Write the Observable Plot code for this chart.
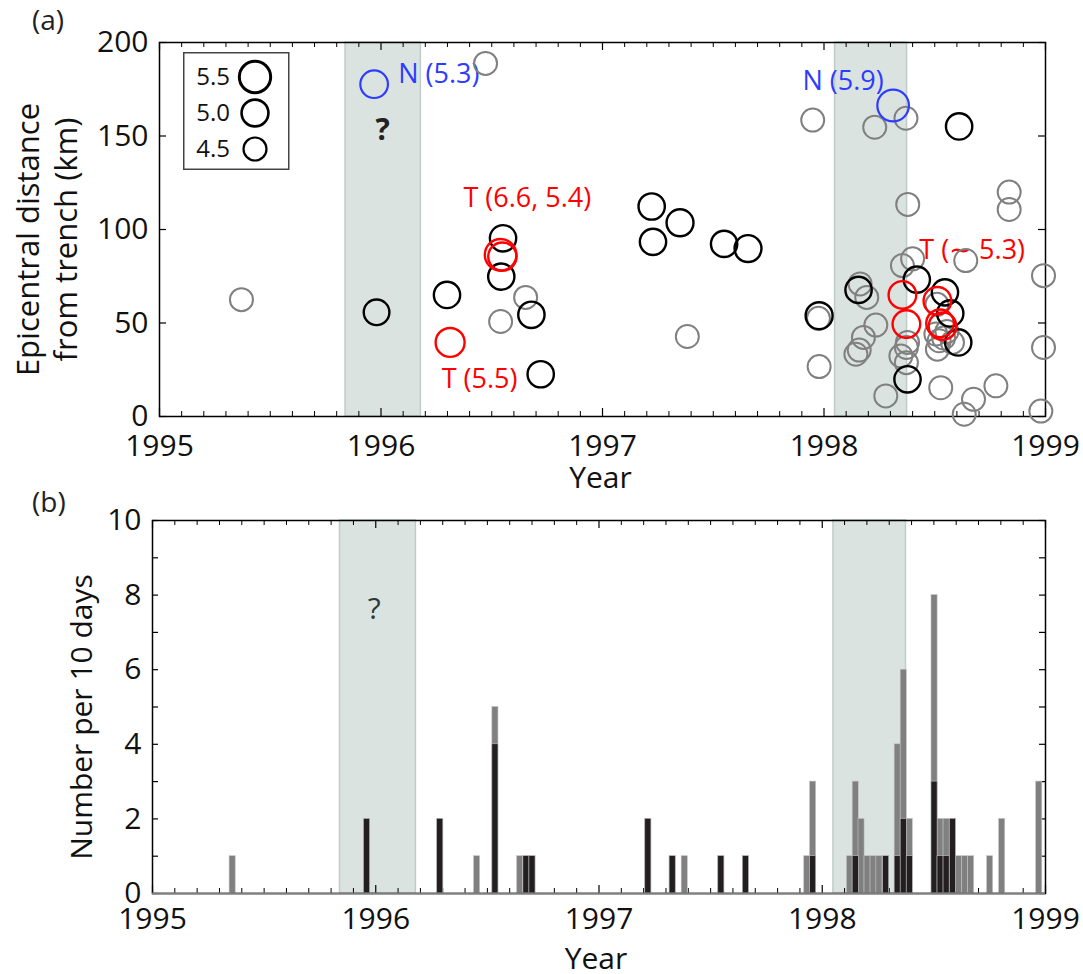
<!DOCTYPE html>
<html><head><meta charset="utf-8">
<script src="https://cdn.jsdelivr.net/npm/d3@7"></script>
<script src="https://cdn.jsdelivr.net/npm/@observablehq/plot@0.6"></script>
<style>
body{margin:0;background:#fff;font-family:"Open Sans",sans-serif;}
#wrap{position:relative;width:1083px;height:974px;overflow:hidden;}
#wrap > svg, #wrap > div{position:absolute;}
.plabel{position:absolute;font-size:28px;color:#222;font-family:"Open Sans",sans-serif;line-height:1;}
</style></head><body><div id="wrap"></div>
<script>
// ---------- Panel (a) data ----------
// Events M < 5 (gray)
const smallYear = [1995.370, 1996.472, 1996.653, 1996.540, 1997.383, 1997.949, 1998.229, 1998.370, 1998.836, 1998.836, 1998.378, 1997.975, 1997.978, 1998.163, 1998.193, 1998.234, 1998.178, 1998.159, 1998.144, 1998.279, 1998.354, 1998.400, 1998.377, 1998.372, 1998.347, 1998.372, 1998.640, 1998.505, 1998.520, 1998.512, 1998.580, 1998.510, 1998.527, 1998.675, 1998.633, 1998.776, 1998.991, 1998.991, 1998.979, 1998.555, 1998.540];
const smallDist = [62.5, 188.8, 63.7, 50.8, 42.8, 158.5, 154.7, 159.5, 120.0, 110.7, 113.4, 52.5, 26.7, 70.9, 63.7, 48.9, 42.3, 35.5, 33.3, 11.0, 80.7, 84.3, 39.6, 36.9, 32.4, 28.8, 83.4, 44.1, 40.5, 36.0, 39.6, 60.0, 15.4, 9.2, 1.2, 16.4, 75.3, 36.9, 2.9, 45.5, 42.0];
const smallMag  = [4.5, 4.6, 4.6, 4.6, 4.6, 4.6, 4.6, 4.6, 4.6, 4.6, 4.6, 4.6, 4.6, 4.6, 4.6, 4.6, 4.6, 4.6, 4.6, 4.6, 4.6, 4.6, 4.6, 4.6, 4.6, 4.6, 4.6, 4.6, 4.6, 4.6, 4.6, 4.6, 4.6, 4.6, 4.6, 4.6, 4.6, 4.6, 4.6, 4.6, 4.6];
// Events M >= 5 (black)
const largeYear = [1995.980, 1996.298, 1996.551, 1996.543, 1996.679, 1996.721, 1997.222, 1997.350, 1997.228, 1997.549, 1997.657, 1998.610, 1997.978, 1998.156, 1998.419, 1998.377, 1998.546, 1998.570, 1998.606];
const largeDist = [55.7, 65.0, 95.3, 74.8, 54.4, 22.6, 112.3, 103.6, 93.4, 92.3, 89.8, 155.1, 53.9, 67.7, 73.2, 19.9, 66.4, 55.1, 39.6];
const largeMag  = [5.0, 5.1, 5.1, 5.1, 5.1, 5.1, 5.1, 5.2, 5.1, 5.1, 5.2, 5.1, 5.2, 5.1, 5.1, 5.1, 5.1, 5.1, 5.1];
// Thrust events (red)
const thrustYear = [1996.312, 1996.540, 1996.548, 1998.354, 1998.372, 1998.512, 1998.524, 1998.535];
const thrustDist = [39.6, 86.5, 85.5, 65.0, 49.4, 61.9, 49.8, 48.3];
const thrustMag  = [5.5, 6.6, 5.4, 5.3, 5.3, 5.3, 5.3, 5.3];
// Normal events (blue)
const normalYear = [1995.969, 1998.312];
const normalDist = [177.7, 166.3];
const normalMag  = [5.3, 5.9];
// Annotations
const noteText  = ["N (5.3)", "T (6.6, 5.4)", "T (5.5)", "N (5.9)", "T (\u223C 5.3)"];
const noteYear  = [1996.078, 1996.372, 1996.274, 1997.903, 1998.430];
const noteDist  = [183.1, 116.5, 19.9, 179.2, 89.1];
const noteColor = ["#2d3cff", "#ff0000", "#ff0000", "#2d3cff", "#ff0000"];
const questionA = {year: 1996.008, dist: 153};
// Shaded periods
const shadeStart = [1995.84, 1998.05];
const shadeEnd   = [1996.18, 1998.375];
// Legend
const legendMag = [5.5, 5.0, 4.5];
const legendLabel = ["5.5", "5.0", "4.5"];
// Ticks
const yearTicks = [1995, 1996, 1997, 1998, 1999];
const minorYearTicks = d3.range(1, 40).filter(i => i % 10 !== 0).map(i => 1995 + i / 10);
const distTicks = [0, 50, 100, 150, 200];

// ---------- Panel (b) data ----------
const binCenter = [1995.359, 1995.961, 1996.289, 1996.454, 1996.536, 1996.647, 1996.675, 1996.702, 1997.221, 1997.330, 1997.384, 1997.548, 1997.658, 1997.933, 1997.959, 1998.124, 1998.150, 1998.176, 1998.203, 1998.230, 1998.256, 1998.286, 1998.338, 1998.365, 1998.392, 1998.503, 1998.530, 1998.557, 1998.585, 1998.613, 1998.640, 1998.667, 1998.752, 1998.806, 1998.972];
const binTotal  = [1, 2, 2, 1, 5, 1, 1, 1, 2, 1, 1, 1, 1, 1, 3, 1, 3, 2, 1, 1, 1, 1, 4, 6, 2, 8, 2, 2, 2, 1, 1, 1, 1, 2, 3];
const binLarge  = [0, 2, 2, 0, 4, 0, 1, 1, 2, 1, 0, 1, 1, 0, 1, 0, 1, 0, 0, 0, 0, 1, 1, 2, 1, 3, 1, 1, 2, 0, 0, 0, 0, 0, 0];
const binDays = 10;
const countTicks = [0, 1, 2, 3, 4, 5, 6, 7, 8, 9, 10];
const countLabels = [0, 2, 4, 6, 8, 10];
const questionB = {year: 1995.993, count: 7.63};

// ---------- build ----------
const wrap = document.getElementById("wrap");
const W = 1083;
const toRows = (ys, ds, ms) => ys.map((y, i) => ({year: y, dist: ds[i], mag: ms[i]}));
const small = toRows(smallYear, smallDist, smallMag);
const large = toRows(largeYear, largeDist, largeMag);
const thrust = toRows(thrustYear, thrustDist, thrustMag);
const normal = toRows(normalYear, normalDist, normalMag);
const notes = noteText.map((t, i) => ({text: t, year: noteYear[i], dist: noteDist[i], color: noteColor[i]}));
const shades = shadeStart.map((s, i) => ({x1: s, x2: shadeEnd[i]}));

const shadeFill = "#dbe3e1", shadeStroke = "#bfcbca";

function ticksFor(frameW, frameH, xt, yt, majorLen, minorLen, yLen) {
  return [
    Plot.ruleX(xt, {stroke: "black", strokeWidth: 1.2, insetTop: frameH - majorLen}),
    Plot.ruleX(xt, {stroke: "black", strokeWidth: 1.2, insetBottom: frameH - majorLen}),
    Plot.ruleX(minorYearTicks, {stroke: "black", strokeWidth: 1, insetTop: frameH - minorLen}),
    Plot.ruleX(minorYearTicks, {stroke: "black", strokeWidth: 1, insetBottom: frameH - minorLen}),
    Plot.ruleY(yt, {stroke: "black", strokeWidth: 1.2, insetRight: frameW - yLen}),
    Plot.ruleY(yt, {stroke: "black", strokeWidth: 1.2, insetLeft: frameW - yLen})
  ];
}

// Panel (a)
const A = {height: 500, mt: 42, mb: 84, ml: 159, mr: 38};
const aFrameW = W - A.ml - A.mr, aFrameH = A.height - A.mt - A.mb;
const rScale = {type: "linear", domain: [4.6, 5.9], range: [11.5, 15.8], clamp: true};
const plotA = Plot.plot({
  width: W, height: A.height,
  marginTop: A.mt, marginBottom: A.mb, marginLeft: A.ml, marginRight: A.mr,
  style: {fontFamily: "Open Sans, sans-serif", fontSize: "30px", color: "#111", background: "white", overflow: "visible"},
  x: {domain: [1995, 1999], axis: null},
  y: {domain: [0, 200], axis: null},
  r: rScale,
  marks: [
    Plot.rect(shades, {x1: "x1", x2: "x2", fill: shadeFill, stroke: shadeStroke, strokeWidth: 1.5}),
    ...ticksFor(aFrameW, aFrameH, yearTicks, distTicks, 8, 5, 7),
    Plot.frame({stroke: "black", strokeWidth: 1.5}),
    Plot.text(yearTicks, {x: d => d, frameAnchor: "bottom", dy: 30, lineAnchor: "middle", text: d => String(d), fill: "#111"}),
    Plot.text(distTicks, {y: d => d, frameAnchor: "left", dx: -11, textAnchor: "end", lineAnchor: "middle", text: d => String(d), fill: "#111"}),
    Plot.text(["Year"], {frameAnchor: "bottom", dx: -2, dy: 62, lineAnchor: "middle", fill: "#111"}),
    Plot.text(["Epicentral distance\nfrom trench (km)"], {frameAnchor: "left", dx: -114, dy: 10, rotate: -90, lineAnchor: "middle", textAnchor: "middle", lineHeight: 1.25, fontSize: 31, fill: "#111"}),
    Plot.text(notes, {x: "year", y: "dist", text: "text", fill: "color", textAnchor: "start", lineAnchor: "middle", fontSize: 27}),
    Plot.text([questionA], {x: "year", y: "dist", text: () => "?", fontSize: 30, fontWeight: "bold", fill: "#222"}),
    Plot.dot(small, {x: "year", y: "dist", r: "mag", stroke: "#808080", strokeWidth: 2, sort: null}),
    Plot.dot(large, {x: "year", y: "dist", r: "mag", stroke: "black", strokeWidth: 2.4, sort: null}),
    Plot.dot(thrust, {x: "year", y: "dist", r: "mag", stroke: "#ff0000", strokeWidth: 2.4, sort: null}),
    Plot.dot(normal, {x: "year", y: "dist", r: "mag", stroke: "#2d3cff", strokeWidth: 2.2, sort: null})
  ]
});
plotA.style.left = "0px"; plotA.style.top = "0px";
wrap.appendChild(plotA);

// Legend (inside panel a)
const rFn = plotA.scale("r");
const leg = d3.create("svg").attr("width", 108).attr("height", 119)
  .style("left", "183px").style("top", "52px").style("position", "absolute");
leg.append("rect").attr("x", 0.75).attr("y", 0.75).attr("width", 105).attr("height", 116.5)
  .attr("fill", "white").attr("stroke", "#444").attr("stroke-width", 1.5);
const legStroke = [3, 2.6, 2.2];
legendMag.forEach((m, i) => {
  const cy = 25 + i * 36;
  leg.append("text").attr("x", 47).attr("y", cy).attr("dy", "0.35em").attr("text-anchor", "end")
    .attr("font-family", "Open Sans, sans-serif").attr("font-size", 24).attr("fill", "#111").text(legendLabel[i]);
  leg.append("circle").attr("cx", 72).attr("cy", cy).attr("r", Math.max(rFn.apply(m), 11.5) + (2 - i) * 0.6)
    .attr("fill", "none").attr("stroke", "black").attr("stroke-width", legStroke[i]);
});
wrap.appendChild(leg.node());

// Panel (b)
const B = {height: 474, mt: 20, mb: 81, ml: 152, mr: 38};
const bFrameW = W - B.ml - B.mr, bFrameH = B.height - B.mt - B.mb;
const half = binDays / 2 / 365.25;
const bars = binCenter.map((c, i) => ({x1: c - half, x2: c + half, total: binTotal[i], large: binLarge[i]}));
const plotB = Plot.plot({
  width: W, height: B.height,
  marginTop: B.mt, marginBottom: B.mb, marginLeft: B.ml, marginRight: B.mr,
  style: {fontFamily: "Open Sans, sans-serif", fontSize: "30px", color: "#111", background: "transparent", overflow: "visible"},
  x: {domain: [1995, 1999], axis: null},
  y: {domain: [0, 10], axis: null},
  marks: [
    Plot.rect(shades, {x1: "x1", x2: "x2", fill: shadeFill, stroke: shadeStroke, strokeWidth: 1.5}),
    Plot.text([questionB], {x: "year", y: "count", text: () => "?", fontSize: 30, fill: "#2a3a3a"}),
    ...ticksFor(bFrameW, bFrameH, yearTicks, countTicks, 8, 5, 6),
    Plot.rectY(bars, {x1: "x1", x2: "x2", y: "total", fill: "#808080", stroke: "#c4c4c4", strokeWidth: 0.6}),
    Plot.rectY(bars.filter(d => d.large > 0), {x1: "x1", x2: "x2", y: "large", fill: "#231f20", stroke: "#c4c4c4", strokeWidth: 0.6}),
    Plot.frame({stroke: "black", strokeWidth: 1.5}),
    Plot.ruleY([0], {stroke: "#808080", strokeWidth: 2.2}),
    Plot.text(yearTicks, {x: d => d, frameAnchor: "bottom", dy: 26, lineAnchor: "middle", text: d => String(d), fill: "#111"}),
    Plot.text(countLabels, {y: d => d, frameAnchor: "left", dx: -11, textAnchor: "end", lineAnchor: "middle", text: d => String(d), fill: "#111"}),
    Plot.text(["Year"], {frameAnchor: "bottom", dx: -3, dy: 66, lineAnchor: "middle", fill: "#111"}),
    Plot.text(["Number per 10 days"], {frameAnchor: "left", dx: -70, dy: 10, rotate: -90, lineAnchor: "middle", textAnchor: "middle", fill: "#111"})
  ]
});
plotB.style.left = "0px"; plotB.style.top = "500px";
wrap.appendChild(plotB);

// Panel labels
const la = document.createElement("div"); la.className = "plabel"; la.textContent = "(a)";
la.style.left = "32px"; la.style.top = "5px"; wrap.appendChild(la);
const lb = document.createElement("div"); lb.className = "plabel"; lb.textContent = "(b)";
lb.style.left = "32px"; lb.style.top = "487px"; wrap.appendChild(lb);
</script>
</body></html>
